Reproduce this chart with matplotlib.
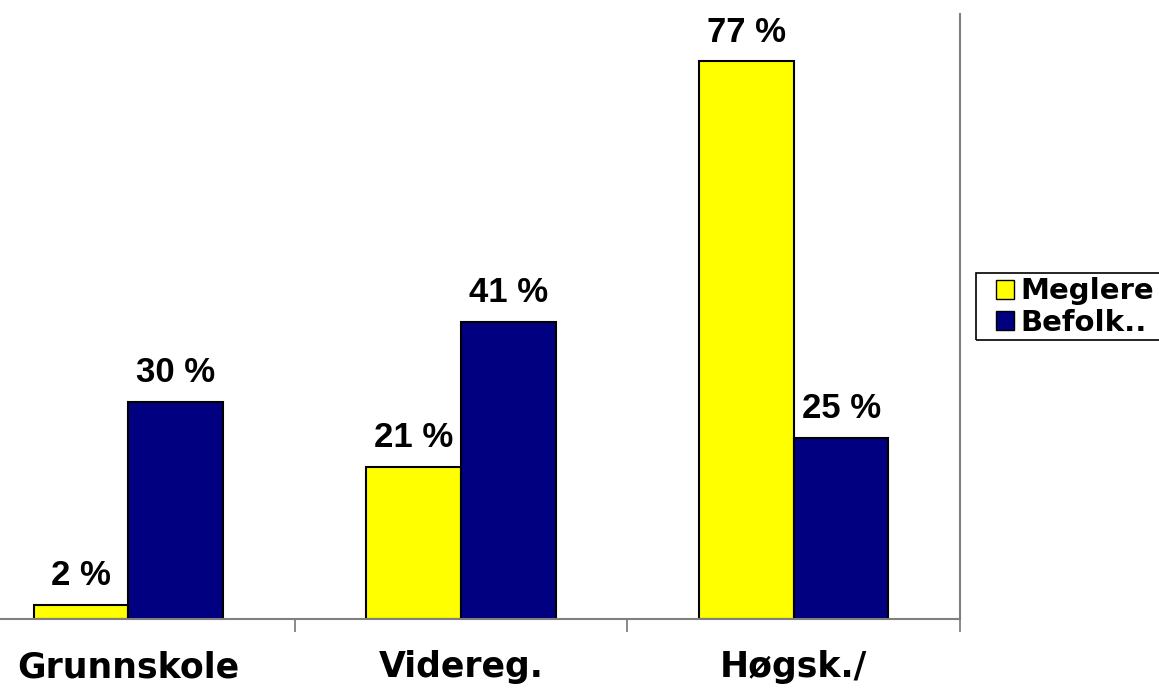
import numpy as np
import matplotlib.pyplot as plt
from matplotlib.patches import Patch, Rectangle

# Data
kategorier = ['Grunnskole', 'Videreg.', 'Høgsk./']
meglere = [2, 21, 77]
befolk = [30, 41, 25]
serier = ['Meglere', 'Befolk..']
farger = ['#FFFF00', '#000080']

plt.rcParams['font.family'] = ['DejaVu Sans']
plt.rcParams['font.weight'] = 'bold'

fig = plt.figure(figsize=(11.59, 6.92), dpi=100)
ax = fig.add_axes([-38/1159, 1-619/692, 998/1159, 605/692])

x = np.arange(len(kategorier))
b = 0.285
r1 = ax.bar(x - b/2, meglere, b, color=farger[0], edgecolor='black', linewidth=1.5)
r2 = ax.bar(x + b/2, befolk, b, color=farger[1], edgecolor='black', linewidth=1.5)

# verdier over stolpene
for rects, vals in [(r1, meglere), (r2, befolk)]:
    for r, v in zip(rects, vals):
        ax.annotate('%d %%' % v, (r.get_x() + r.get_width()/2, r.get_height()),
                    xytext=(0, 14), textcoords='offset points',
                    ha='center', va='baseline', fontsize=25, fontweight='bold',
                    family='Liberation Sans')

ax.set_xlim(-0.5, 2.5)
ax.set_ylim(0, 83.5)
ax.set_yticks([])
ax.set_xticks(x)
ax.set_xticklabels(kategorier, fontsize=25, fontweight='bold')
ax.set_xticks([0.5, 1.5, 2.5], minor=True)
ax.tick_params(axis='x', which='major', length=0, pad=22.5)
ax.tick_params(axis='x', which='minor', length=9, width=1.3, color='#808080')

for s in ['top', 'left']:
    ax.spines[s].set_visible(False)
for s in ['bottom', 'right']:
    ax.spines[s].set_color('#808080')
    ax.spines[s].set_linewidth(1.5)

# forklaring, rammen går ut over kanten
handles = [Patch(facecolor=c, edgecolor='black', label=l) for c, l in zip(farger, serier)]
leg = fig.legend(handles=handles, loc='upper left', bbox_to_anchor=(992/1159, 1-273/692),
                 fontsize=21, frameon=False,
                 handlelength=0.62, handleheight=0.62, handletextpad=0.2,
                 labelspacing=0.12, borderpad=0.15, borderaxespad=0)
for t in leg.get_texts():
    t.set_fontweight('bold')
fig.patches.append(Rectangle((976/1159, 1-340/692), 200/1159, 67/692,
                             transform=fig.transFigure, fill=False,
                             edgecolor='black', linewidth=1.2))

fig.savefig('out.png', dpi=100)
